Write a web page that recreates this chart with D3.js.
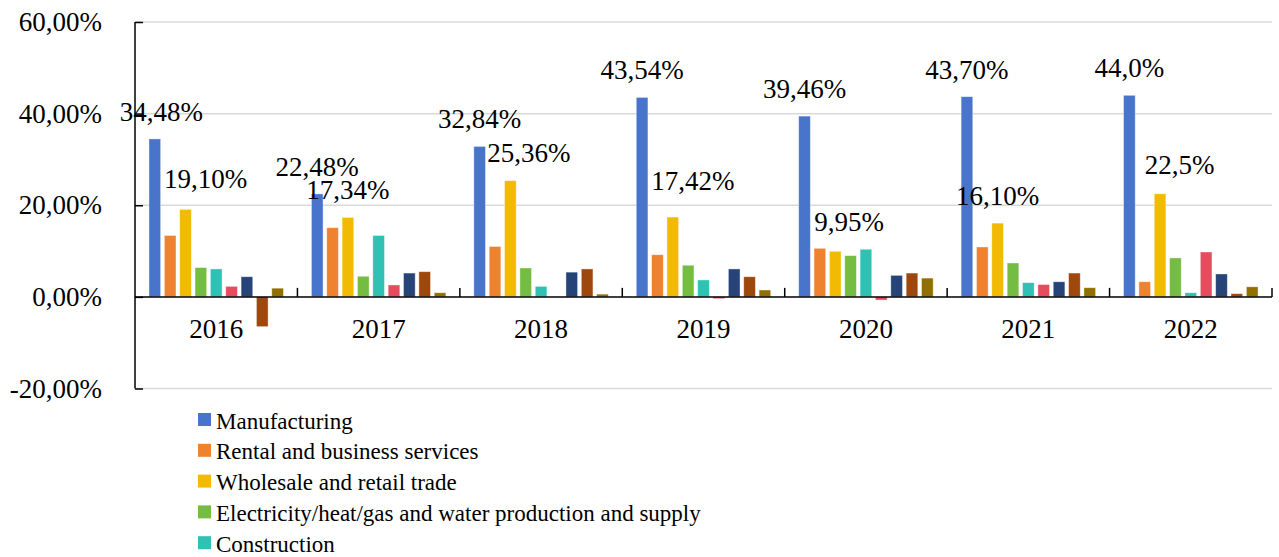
<!DOCTYPE html>
<html>
<head>
<meta charset="utf-8">
<script src="https://cdn.jsdelivr.net/npm/d3@7"></script>
</head>
<body style="margin:0;background:#fff">
<svg id="chart" width="1279" height="557" style="display:block;font-family:'Liberation Serif','Times New Roman',Tinos,serif"></svg>
<script>
// ---- data ----
const years = ["2016", "2017", "2018", "2019", "2020", "2021", "2022"];
const seriesNames = [
  "Manufacturing",
  "Rental and business services",
  "Wholesale and retail trade",
  "Electricity/heat/gas and water production and supply",
  "Construction",
  "Finance",
  "Transportation, storage and postal services",
  "Mining",
  "Real estate"
];
const seriesColors = ["#4874CB", "#EE822F", "#F2BA02", "#75BD42", "#30C0B4", "#E54C5E", "#264478", "#9E480E", "#917000"];
const manufacturing = [34.48, 22.48, 32.84, 43.54, 39.46, 43.70, 44.0];
const rental        = [13.4, 15.1, 11.0, 9.2, 10.6, 10.9, 3.3];
const wholesale     = [19.10, 17.34, 25.36, 17.42, 9.95, 16.10, 22.5];
const electricity   = [6.4, 4.5, 6.3, 6.9, 9.0, 7.4, 8.5];
const construction  = [6.1, 13.4, 2.3, 3.7, 10.4, 3.1, 0.9];
const finance       = [2.3, 2.6, 0.0, -0.4, -0.7, 2.7, 9.8];
const transport     = [4.4, 5.2, 5.4, 6.1, 4.7, 3.3, 5.0];
const mining        = [-6.5, 5.5, 6.1, 4.4, 5.2, 5.2, 0.7];
const realEstate    = [1.9, 0.9, 0.6, 1.5, 4.1, 2.0, 2.2];
const seriesValues = [manufacturing, rental, wholesale, electricity, construction, finance, transport, mining, realEstate];
const yTicks = [-20, 0, 20, 40, 60];
const yTickLabels = ["-20,00%", "0,00%", "20,00%", "40,00%", "60,00%"];
const manufacturingLabels = ["34,48%", "22,48%", "32,84%", "43,54%", "39,46%", "43,70%", "44,0%"];
const wholesaleLabels = ["19,10%", "17,34%", "25,36%", "17,42%", "9,95%", "16,10%", "22,5%"];
// manual label nudges [dx, dy] (as in the original, labels were dragged)
const manufacturingNudge = [[6.5, 0], [0, 0], [0, 0], [0, 0], [0, 0], [0, 0], [0, 0]];
const wholesaleNudge = [[20, -3.5], [0, -0.5], [18.5, -0.5], [20, -9.5], [14, -2], [0, 0], [19.5, -1.3]];

// ---- layout ----
const svg = d3.select("#chart");
const plotLeft = 135, plotRight = 1272, plotTop = 22, plotBottom = 388.5;
const serifFont = "'Liberation Serif'";

const x0 = d3.scaleBand().domain(years).range([plotLeft, plotRight]).padding(0);
const x1 = d3.scaleBand().domain(d3.range(seriesNames.length))
  .range([0, x0.bandwidth()]).paddingInner(0.24).paddingOuter(0.91);
const y = d3.scaleLinear().domain([-20, 60]).range([plotBottom, plotTop]);

// gridlines
svg.append("g").selectAll("line").data(yTicks.filter(d => d !== 0)).join("line")
  .attr("x1", plotLeft).attr("x2", plotRight)
  .attr("y1", d => y(d)).attr("y2", d => y(d))
  .attr("stroke", "#d9d9d9").attr("stroke-width", 1.5);

// bars
const table = [];
years.forEach((yr, i) => seriesValues.forEach((vals, s) => table.push({ yr, s, v: vals[i] })));
svg.append("g").selectAll("rect").data(table.filter(d => d.v !== 0)).join("rect")
  .attr("x", d => x0(d.yr) + x1(d.s))
  .attr("width", x1.bandwidth())
  .attr("y", d => y(Math.max(0, d.v)))
  .attr("height", d => Math.abs(y(d.v) - y(0)))
  .attr("fill", d => seriesColors[d.s])
  .attr("stroke", "#ffffff").attr("stroke-opacity", 0.5).attr("stroke-width", 0.8);

// y axis
const yAxis = d3.axisRight(y).tickValues(yTicks).tickSize(8).tickFormat("");
const yg = svg.append("g").attr("transform", `translate(${plotLeft},0)`).call(yAxis);
yg.attr("font-family", null);
yg.select(".domain").attr("stroke", "#000").attr("stroke-width", 1.5).attr("d", `M0,${plotTop}V${plotBottom}`);
yg.selectAll(".tick line").attr("stroke", "#000").attr("stroke-width", 1.5);
svg.append("g").selectAll("text").data(yTicks).join("text")
  .attr("x", 102).attr("y", d => y(d) + 9)
  .attr("text-anchor", "end").attr("font-size", 27).style("font-family", serifFont).attr("fill", "#000")
  .text((d, i) => yTickLabels[i]);

// x axis at zero
const xg = svg.append("g");
xg.append("line").attr("x1", plotLeft).attr("x2", plotRight).attr("y1", y(0)).attr("y2", y(0))
  .attr("stroke", "#000").attr("stroke-width", 1.5);
const boundaries = years.map(d => x0(d)).slice(1).concat([plotRight]);
xg.selectAll("line.tk").data(boundaries).join("line").attr("class", "tk")
  .attr("x1", d => d).attr("x2", d => d).attr("y1", y(0)).attr("y2", y(0) - 9)
  .attr("stroke", "#000").attr("stroke-width", 1.5);
xg.selectAll("text").data(years).join("text")
  .attr("x", d => x0(d) + x0.bandwidth() / 2).attr("y", y(0) + 41.5)
  .attr("text-anchor", "middle").attr("font-size", 27).style("font-family", serifFont).attr("fill", "#000")
  .text(d => d);

// data labels
function addLabels(sIdx, vals, labels, nudges) {
  svg.append("g").selectAll("text").data(years).join("text")
    .attr("x", (d, i) => x0(d) + x1(sIdx) + x1.bandwidth() / 2 + nudges[i][0])
    .attr("y", (d, i) => y(vals[i]) - 18 + nudges[i][1])
    .attr("text-anchor", "middle").attr("font-size", 27).style("font-family", serifFont).attr("fill", "#000")
    .text((d, i) => labels[i]);
}
addLabels(0, manufacturing, manufacturingLabels, manufacturingNudge);
addLabels(2, wholesale, wholesaleLabels, wholesaleNudge);

// legend (only the entries that fit in the frame are visible, as in the original)
const lg = svg.append("g");
const legendRow = d3.scaleLinear().domain([0, 1]).range([428.5, 459.3]);
const items = lg.selectAll("g").data(seriesNames.slice(0, 5)).join("g")
  .attr("transform", (d, i) => `translate(0,${legendRow(i)})`);
items.append("rect").attr("x", 198).attr("y", -15.5).attr("width", 13).attr("height", 13)
  .attr("fill", (d, i) => seriesColors[i]);
items.append("text").attr("x", 216).attr("y", 0).attr("font-size", 23).style("font-family", serifFont).attr("fill", "#000")
  .text(d => d);
</script>
</body>
</html>
